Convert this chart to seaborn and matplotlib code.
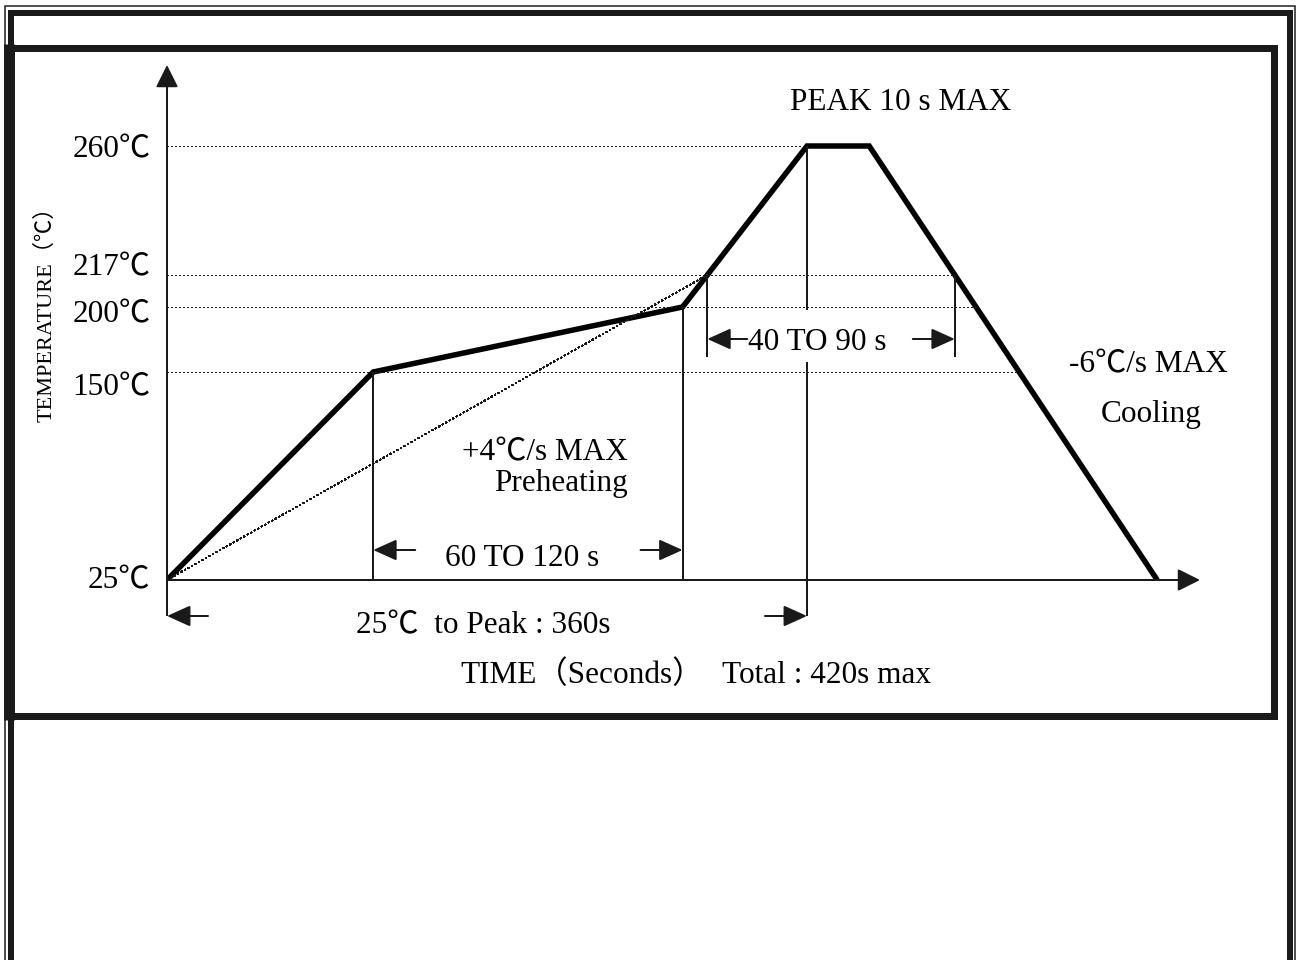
import numpy as np
import matplotlib
matplotlib.use("Agg")
import matplotlib.pyplot as plt
import seaborn as sns
from matplotlib.transforms import ScaledTranslation

# reflow soldering profile: time (s along the drawing) and temperature (℃)
profile_time = [0, 116, 290, 360, 395, 557]
profile_temp = [25, 150, 200, 260, 260, 25]

# temperature levels marked on the y axis
level_temp = [25, 150, 200, 217, 260]
level_label = ["25℃", "150℃", "200℃", "217℃", "260℃"]

# texts of the drawing
peak_text = "PEAK 10 s MAX"
preheat_text = ["+4℃/s MAX", "Preheating"]
cooling_text = ["-6℃/s MAX", "Cooling"]
soak_text = "60 TO 120 s"
liquidus_text = "40 TO 90 s"
total_text = "25℃  to Peak : 360s"
xlabel_text = "TIME（Seconds）"
total_max_text = "Total : 420s max"
ylabel_text = "TEMPERATURE（℃）"

# the drawing is not to scale: rise of each level above the 25℃ base line, in px
level_rise = [0, 208, 273, 305, 434]

sns.set_theme(style="white")
plt.rcParams["font.family"] = ["Liberation Serif", "Noto Sans CJK SC"]
plt.rcParams["text.color"] = "black"

lt = np.array(level_temp, float)
lr = np.array(level_rise, float)
k_lo = (lr[1] - lr[0]) / (lt[1] - lt[0])
k_hi = (lr[-1] - lr[-2]) / (lt[-1] - lt[-2])


def temp_to_rise(t):
    t = np.asarray(t, float)
    r = np.interp(t, lt, lr)
    r = np.where(t < lt[0], lr[0] + (t - lt[0]) * k_lo, r)
    r = np.where(t > lt[-1], lr[-1] + (t - lt[-1]) * k_hi, r)
    return r


def rise_to_temp(r):
    r = np.asarray(r, float)
    t = np.interp(r, lr, lt)
    t = np.where(r < lr[0], lt[0] + (r - lr[0]) / k_lo, t)
    t = np.where(r > lr[-1], lt[-1] + (r - lr[-1]) / k_hi, t)
    return t


def time_at(temp, i):
    # segments are straight on the drawing, so interpolate on drawn heights
    t0, t1 = profile_time[i], profile_time[i + 1]
    h0, h1, h = temp_to_rise([profile_temp[i], profile_temp[i + 1], temp])
    return t0 + (t1 - t0) * (h - h0) / (h1 - h0)


def pt(px):
    return px * 0.72


W, H = 1297, 960
fig = plt.figure(figsize=(W / 100, H / 100), dpi=100)

# page frame in pixel coordinates
bg = fig.add_axes([0, 0, 1, 1])
bg.set_xlim(0, W)
bg.set_ylim(H, 0)
bg.axis("off")
bg.plot([5, 5, 1295, 1295], [965, 6, 6, 965], color="k", lw=pt(1.5), solid_joinstyle="miter")
bg.plot([11, 11, 1290, 1290, 11], [962, 13, 13, 962, 962], color="k", lw=pt(6), solid_joinstyle="miter")
bg.plot([11, 1274, 1274, 11], [48, 48, 716, 716], color="k", lw=pt(7), solid_joinstyle="miter")
bg.plot([8.5, 8.5], [44, 720], color="k", lw=pt(11), solid_capstyle="butt")

# diagram
X0, Y0 = 167, 580
PX_S = 16 / 9
AX_W, AX_H = 1043, 520
ax = fig.add_axes([X0 / W, (H - Y0) / H, AX_W / W, AX_H / H])
ax.patch.set_alpha(0)

sns.lineplot(x=profile_time, y=profile_temp, ax=ax, color="black", lw=pt(5.5))
ax.lines[-1].set_solid_joinstyle("miter")
ax.lines[-1].set_solid_capstyle("butt")

ax.set_yscale("function", functions=(temp_to_rise, rise_to_temp))
ax.set_xlim(0, AX_W / PX_S)
ax.set_ylim(25, float(rise_to_temp(AX_H)))
for s in ax.spines.values():
    s.set_visible(False)
ax.set_xticks([])
ax.set_yticks(level_temp, level_label)
ax.tick_params(axis="y", length=0, pad=12, labelsize=22.5, labelcolor="black")
ax.set_xlabel("")
ax.set_ylabel("")

xt = ax.get_xaxis_transform()


def yf(rise):
    return rise / AX_H


def yT(temp):
    return float(temp_to_rise(temp)) / AX_H


thin = dict(color="k", lw=pt(2), clip_on=False, solid_capstyle="butt")
dotted = dict(color="k", lw=pt(1.3), ls=(0, (1, 1.6)), clip_on=False, antialiased=False)

# dotted levels, up to the profile
t_peak = profile_time[3]
ax.plot([0, t_peak], [260, 260], **dotted)
for T in [217, 200, 150]:
    ax.plot([0, time_at(T, 4)], [T, T], **dotted)
t_liq_up = time_at(217, 2)
t_liq_dn = time_at(217, 4)
ax.plot([0, t_liq_up], [25, 217], **dotted)

# helper verticals
ax.plot([profile_time[1]] * 2, [0, yT(150)], transform=xt, **thin)
ax.plot([profile_time[2]] * 2, [0, yT(200)], transform=xt, **thin)
for t in [t_liq_up, t_liq_dn]:
    ax.plot([t, t], [yT(217), yf(223)], transform=xt, **thin)
ax.plot([t_peak] * 2, [yT(260), yf(270)], transform=xt, **thin)
ax.plot([t_peak] * 2, [yf(218), yf(-36)], transform=xt, **thin)
ax.plot([0, 0], [0, yf(-36)], transform=xt, **thin)


def arrow(t, rise, tail_dx, hl=20, hw=9):
    ax.annotate("", xy=(t, yf(rise)), xycoords=xt,
                xytext=(tail_dx, 0), textcoords="offset points",
                arrowprops=dict(arrowstyle=f"-|>,head_length={pt(hl)},head_width={pt(hw)}",
                                mutation_scale=1, color="k", lw=pt(2),
                                shrinkA=0, shrinkB=0))


# axes with arrow heads
ax.annotate("", xy=(0, yf(515)), xycoords=xt, xytext=(0, 0), textcoords=xt,
            arrowprops=dict(arrowstyle=f"-|>,head_length={pt(19)},head_width={pt(9.5)}",
                            mutation_scale=1, color="k", lw=pt(2), shrinkA=0, shrinkB=0))
ax.annotate("", xy=((1200 - X0) / PX_S, 0), xycoords=xt, xytext=(0, 0), textcoords=xt,
            arrowprops=dict(arrowstyle=f"-|>,head_length={pt(19)},head_width={pt(9.5)}",
                            mutation_scale=1, color="k", lw=pt(2), shrinkA=0, shrinkB=0))

# dimension arrows
arrow(profile_time[1], 30, pt(42))
arrow(profile_time[2], 30, -pt(42))
arrow(t_liq_up, 241, pt(40))
arrow(t_liq_dn, 241, -pt(42))
arrow(0, -36, pt(41))
arrow(t_peak, -36, -pt(42))

# shift the y labels like the drawing does
label_shift = {25: 3, 150: -12, 200: -4, 217: 11, 260: 0}
for T, lab in zip(level_temp, ax.get_yticklabels()):
    lab.set_transform(lab.get_transform() + ScaledTranslation(0, label_shift[T] / 100, fig.dpi_scale_trans))

fs = 22.5
bg.text(901, 110, peak_text, fontsize=fs, ha="center", va="baseline")
bg.text(628, 460, preheat_text[0], fontsize=fs, ha="right", va="baseline")
bg.text(628, 491, preheat_text[1], fontsize=fs, ha="right", va="baseline")
bg.text(1148, 372, cooling_text[0], fontsize=fs, ha="center", va="baseline")
bg.text(1151, 422, cooling_text[1], fontsize=fs, ha="center", va="baseline")
bg.text(522, 566, soak_text, fontsize=fs, ha="center", va="baseline")
bg.text(817, 350, liquidus_text, fontsize=fs, ha="center", va="baseline")
bg.text(483, 633, total_text, fontsize=fs, ha="center", va="baseline")
bg.text(460, 683, xlabel_text, fontsize=fs, ha="left", va="baseline")
bg.text(722, 683, total_max_text, fontsize=fs, ha="left", va="baseline")
bg.text(46, 309, ylabel_text, fontsize=16, rotation=90, ha="center", va="center")

fig.savefig("out.png", dpi=100)
